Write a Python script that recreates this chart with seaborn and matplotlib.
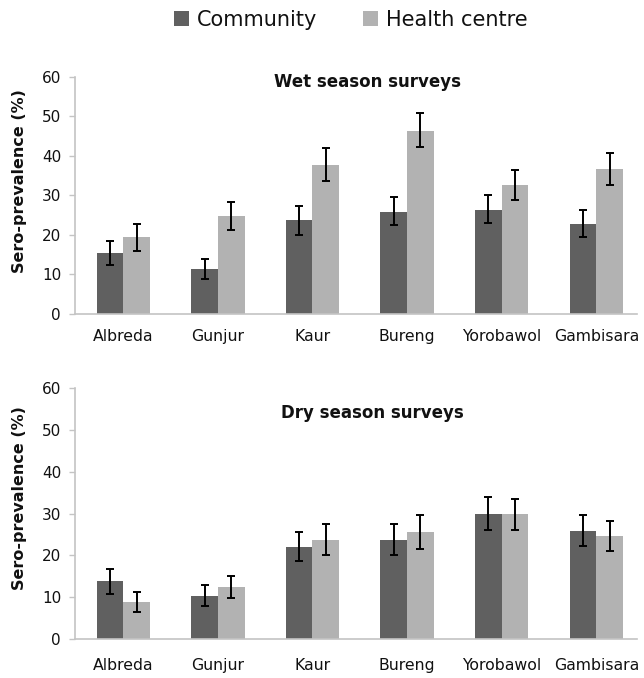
import numpy as np
import pandas as pd
import matplotlib
matplotlib.use("Agg")
import matplotlib.pyplot as plt
import matplotlib.transforms as mtransforms
import seaborn as sns
from matplotlib.patches import Patch

sites = ["Albreda", "Gunjur", "Kaur", "Bureng", "Yorobawol", "Gambisara"]
groups = ["Community", "Health centre"]

wet_comm = [15.4, 11.5, 23.7, 25.8, 26.4, 22.8]
wet_comm_hi = [18.5, 14.0, 27.3, 29.6, 30.1, 26.3]
wet_comm_lo = [12.4, 8.9, 20.0, 22.4, 22.9, 19.4]
wet_hc = [19.4, 24.7, 37.7, 46.3, 32.7, 36.6]
wet_hc_hi = [22.7, 28.3, 41.9, 50.7, 36.5, 40.7]
wet_hc_lo = [15.9, 21.3, 33.7, 42.2, 28.9, 32.5]

dry_comm = [13.8, 10.3, 22.0, 23.7, 30.0, 25.9]
dry_comm_hi = [16.8, 12.9, 25.6, 27.4, 33.9, 29.6]
dry_comm_lo = [10.8, 7.8, 18.6, 20.1, 26.1, 22.3]
dry_hc = [8.7, 12.5, 23.7, 25.6, 29.8, 24.6]
dry_hc_hi = [11.1, 15.0, 27.4, 29.7, 33.5, 28.3]
dry_hc_lo = [6.4, 9.7, 20.1, 21.4, 26.0, 21.1]

titles = ["Wet season surveys", "Dry season surveys"]
ylabel = "Sero-prevalence (%)"
yticks = [0, 10, 20, 30, 40, 50, 60]

colors = {"Community": "#606060", "Health centre": "#b2b2b2"}
axis_col = "#c4c4c4"

sns.set_theme(style="white")
plt.rcParams["font.family"] = ["DejaVu Sans"]

fig = plt.figure(figsize=(6.44, 6.78), dpi=100)
W, H = 644, 678
def axrect(l, r, top, bot):
    return [l / W, 1 - bot / H, (r - l) / W, (bot - top) / H]

ax1 = fig.add_axes(axrect(75, 637, 76.7, 314))
ax2 = fig.add_axes(axrect(75, 637, 388.3, 638.7))

panels = [
    (ax1, wet_comm, wet_comm_lo, wet_comm_hi, wet_hc, wet_hc_lo, wet_hc_hi, 58.6, 0.52, 11),
    (ax2, dry_comm, dry_comm_lo, dry_comm_hi, dry_hc, dry_hc_lo, dry_hc_hi, 54.1, 0.53, 14),
]

for i, (ax, c, clo, chi, h, hlo, hhi, ty, tx, xpad) in enumerate(panels):
    df = pd.DataFrame({
        "site": sites * 2,
        "group": [groups[0]] * len(sites) + [groups[1]] * len(sites),
        "value": list(c) + list(h),
    })
    sns.barplot(data=df, x="site", y="value", hue="group", order=sites,
                hue_order=groups, palette=colors, width=0.565, gap=0,
                errorbar=None, ax=ax, legend=False, saturation=1,
                edgecolor="none", linewidth=0)
    errs = [(c, clo, chi), (h, hlo, hhi)]
    for cont, (v, lo, hi) in zip(ax.containers, errs):
        xs = [p.get_x() + p.get_width() / 2 for p in cont.patches]
        v = np.array(v); lo = np.array(lo); hi = np.array(hi)
        ax.errorbar(xs, v, yerr=[v - lo, hi - v], fmt="none", ecolor="black",
                    elinewidth=1.4, capsize=3.2, capthick=1.4, zorder=5)
    ax.set_ylim(0, 60)
    ax.set_yticks(yticks)
    ax.set_xlim(-0.51, 5.43)
    ax.set_xlabel("")
    ax.set_ylabel(ylabel, fontsize=11.5, fontweight="bold", color="#111111")
    ax.yaxis.set_label_coords(-0.086, 0.56)
    for s in ["top", "right"]:
        ax.spines[s].set_visible(False)
    for s in ["left", "bottom"]:
        ax.spines[s].set_color(axis_col)
        ax.spines[s].set_linewidth(1.2)
    ax.tick_params(axis="y", length=4, width=1, color=axis_col, labelsize=11,
                   labelcolor="#111111", pad=6, left=True, direction="out")
    ax.tick_params(axis="x", length=0, labelsize=11.3, labelcolor="#111111", pad=xpad)
    trans = mtransforms.blended_transform_factory(ax.transAxes, ax.transData)
    ax.text(tx, ty, titles[i], transform=trans,
            fontsize=12, fontweight="bold", ha="center", va="center", color="#111111")

handles = [Patch(facecolor=colors[g], edgecolor="none", label=g) for g in groups]
fig.legend(handles=handles, loc="center", bbox_to_anchor=(351 / W, 1 - 20 / H),
           ncol=2, frameon=False, fontsize=15, handlelength=0.7, handleheight=0.7,
           handletextpad=0.4, columnspacing=2.2, labelcolor="#111111")

fig.savefig("out.png", dpi=100)
